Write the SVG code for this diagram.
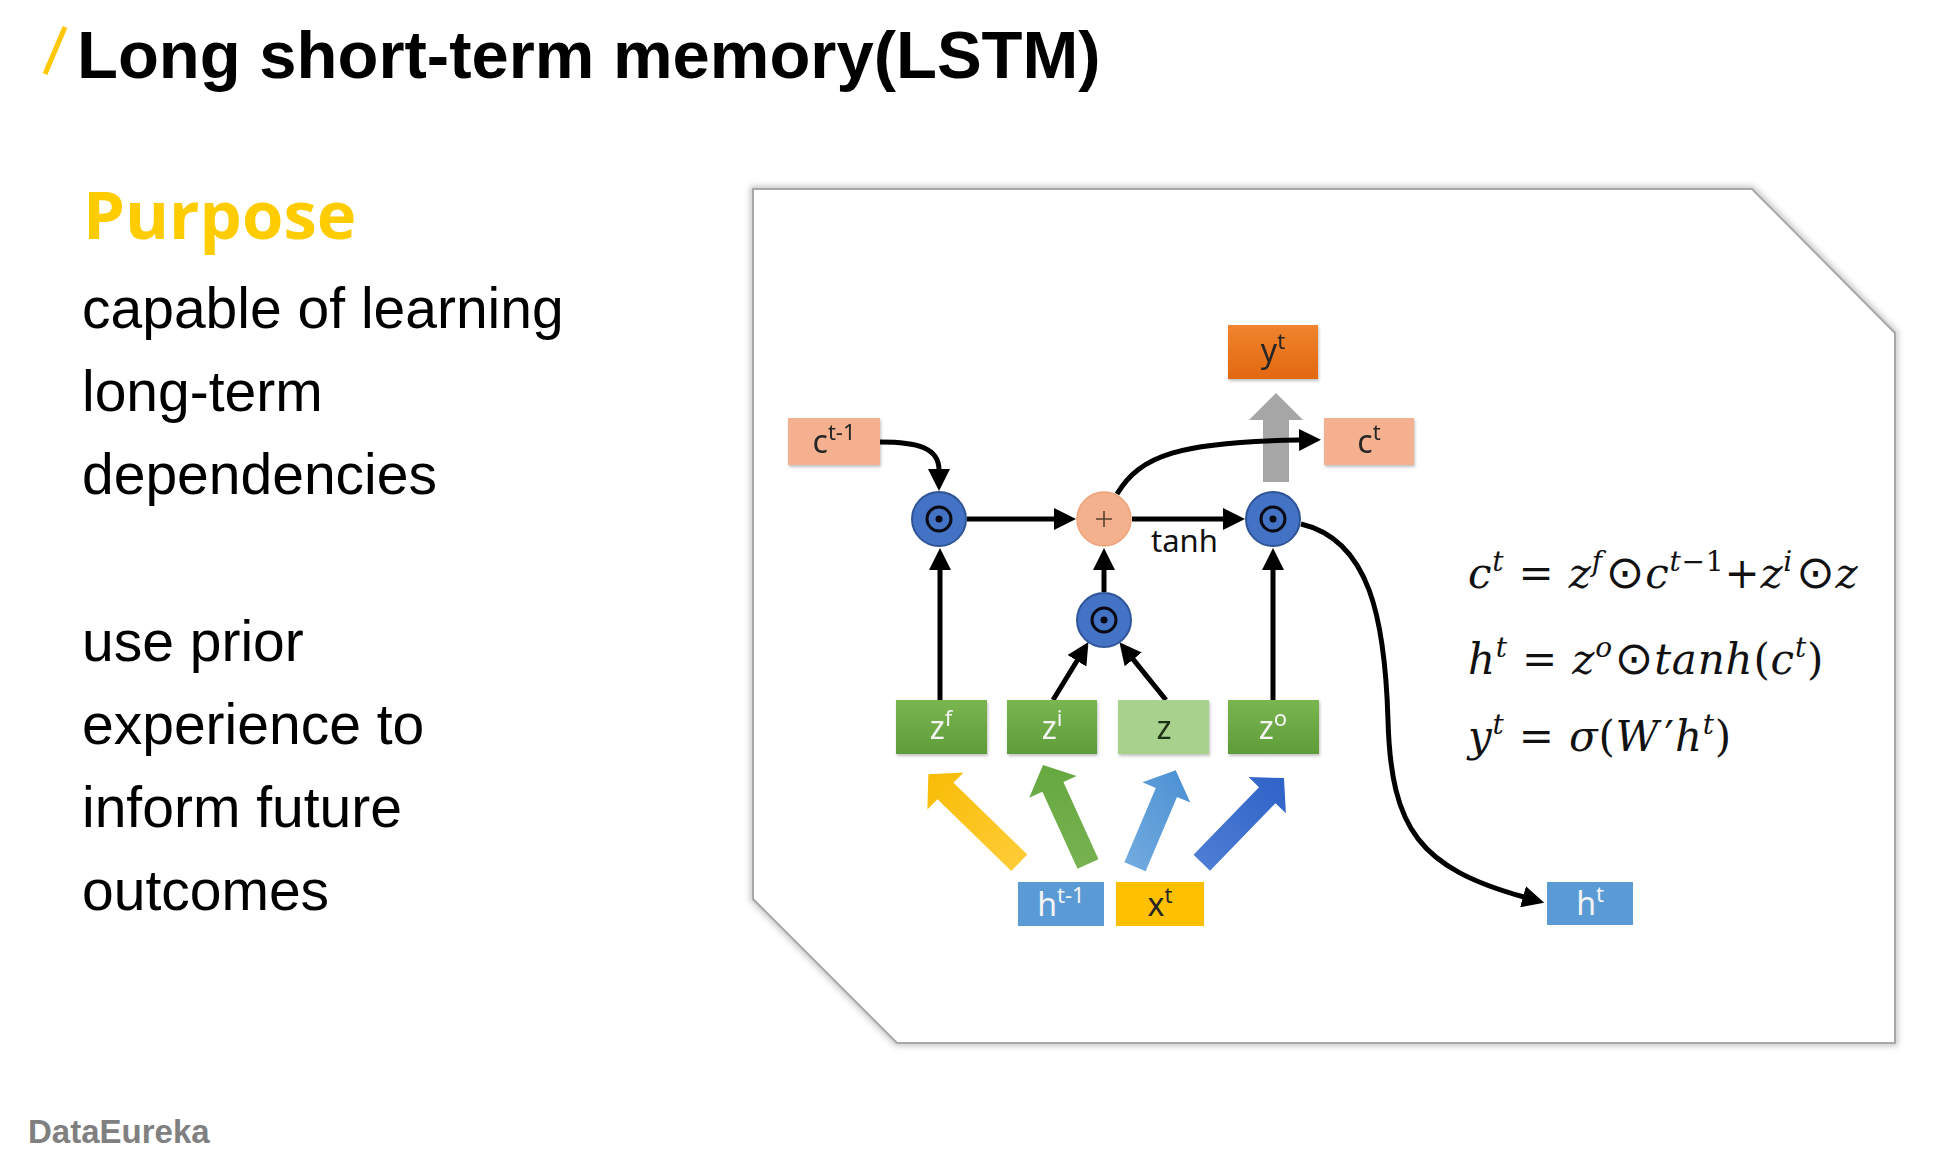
<svg xmlns="http://www.w3.org/2000/svg" width="1944" height="1164" viewBox="0 0 1944 1164">
  <style>
    .title { font-family: "Liberation Sans", Arial, sans-serif; font-weight: 700; font-size: 67px; fill: #000; }
    .head { font-family: "Open Sans", "Noto Sans", sans-serif; font-weight: 700; font-size: 67px; fill: #FFCC00; }
    .body { font-family: "Liberation Sans", Arial, sans-serif; font-size: 57px; fill: #000; }
    .brand { font-family: "Liberation Sans", Arial, sans-serif; font-weight: 700; font-size: 33px; fill: #808080; }
    .lbl { font-family: "Noto Sans", "Open Sans", sans-serif; font-size: 32px; text-anchor: middle; }
    .sup { font-size: 22px; }
    .dark { fill: #262626; }
    .light { fill: #F4F4F4; }
    .eq { font-family: "DejaVu Serif", "Liberation Serif", serif; font-size: 42px; font-style: italic; fill: #111; letter-spacing: 0.8px; }
    .rm { font-style: normal; }
    .op { font-family: "DejaVu Sans", sans-serif; font-style: normal; font-size: 46px; }
    .es { font-size: 28px; }
    .wire { fill: none; stroke: #000; stroke-width: 5; }
    .tanh { font-family: "Noto Sans", "Open Sans", sans-serif; font-size: 31px; fill: #111; }
    .gate { fill: #4472C4; stroke: #2F5597; stroke-width: 2; }
    .ring { fill: none; stroke: #0A0A14; stroke-width: 3; }
  </style>
  <defs>
    <marker id="tip" viewBox="0 0 22 22" refX="1" refY="11" markerWidth="22" markerHeight="22" markerUnits="userSpaceOnUse" orient="auto">
      <path d="M0,0 L22,11 L0,22 z" fill="#000"/>
    </marker>
    <filter id="shade" x="-10%" y="-10%" width="120%" height="130%">
      <feDropShadow dx="1" dy="2" stdDeviation="1.5" flood-color="#000" flood-opacity="0.25"/>
    </filter>
    <filter id="soft" x="-5%" y="-5%" width="110%" height="110%">
      <feGaussianBlur stdDeviation="3"/>
    </filter>
    <linearGradient id="gGreen" x1="0" y1="0" x2="0" y2="1">
      <stop offset="0" stop-color="#7AB650"/>
      <stop offset="1" stop-color="#5F9C3A"/>
    </linearGradient>
    <linearGradient id="gOrange" x1="0" y1="0" x2="0" y2="1">
      <stop offset="0" stop-color="#F0842F"/>
      <stop offset="1" stop-color="#E2680F"/>
    </linearGradient>
    <linearGradient id="gYel" x1="0" y1="0" x2="1" y2="1">
      <stop offset="0" stop-color="#F7BC05"/>
      <stop offset="1" stop-color="#FFCD3A"/>
    </linearGradient>
    <linearGradient id="gGrn" x1="0" y1="0" x2="0" y2="1">
      <stop offset="0" stop-color="#66A840"/>
      <stop offset="1" stop-color="#78B252"/>
    </linearGradient>
    <linearGradient id="gLBlue" x1="1" y1="0" x2="0" y2="1">
      <stop offset="0" stop-color="#4A8FD2"/>
      <stop offset="1" stop-color="#74ACE0"/>
    </linearGradient>
    <linearGradient id="gDBlue" x1="1" y1="0" x2="0" y2="1">
      <stop offset="0" stop-color="#2F62C8"/>
      <stop offset="1" stop-color="#4F7FD4"/>
    </linearGradient>
  </defs>

  <rect width="1944" height="1164" fill="#FFFFFF"/>

  <!-- heading -->
  <line x1="65" y1="27" x2="45" y2="74" stroke="#FFC800" stroke-width="5"/>
  <text class="title" x="77" y="78">Long short-term memory(LSTM)</text>

  <!-- left column -->
  <text class="head" x="83" y="239">Purpose</text>
  <text class="body" x="82" y="328">capable of learning</text>
  <text class="body" x="82" y="411">long-term</text>
  <text class="body" x="82" y="494">dependencies</text>
  <text class="body" x="82" y="661">use prior</text>
  <text class="body" x="82" y="744">experience to</text>
  <text class="body" x="82" y="827">inform future</text>
  <text class="body" x="82" y="910">outcomes</text>
  <text class="brand" x="28" y="1143">DataEureka</text>

  <!-- panel with clipped corners -->
  <g id="panel">
    <polygon points="753,189 1752,189 1895,333 1895,1043 897,1043 753,899" fill="none" stroke="#9A9A9A" stroke-width="5" filter="url(#soft)" opacity="0.7"/>
    <polygon points="753,189 1752,189 1895,333 1895,1043 897,1043 753,899" fill="#FFFFFF" stroke="#A8A8A8" stroke-width="2"/>
  </g>

  <!-- connectors -->
  <g id="connectors">
    <!-- output path up to y -->
    <polygon points="1263,482 1263,420 1249,420 1276,393 1303,420 1289,420 1289,482" fill="#A6A6A6"/>
    <!-- input block arrows -->
    <polygon points="1027.3,854.5 953.5,782.8 963.6,772.4 928.3,774.3 927.4,809.6 937.5,799.3 1011.3,871.0" fill="url(#gYel)"/>
    <polygon points="1098.5,859.2 1063.4,782.1 1076.6,776.1 1043,765 1029.2,797.7 1042.4,791.7 1077.5,868.8" fill="url(#gGrn)"/>
    <polygon points="1145.6,871.2 1177.0,796.9 1190.3,802.5 1175.7,770.3 1142.4,782.3 1155.8,787.9 1124.4,862.2" fill="url(#gLBlue)"/>
    <polygon points="1210.0,870.7 1275.5,803.2 1285.9,813.3 1284,778 1248.6,777.1 1259.0,787.2 1193.5,854.7" fill="url(#gDBlue)"/>
    <!-- cell state -->
    <path class="wire" d="M880,442 C918,442 939,448 939,470" marker-end="url(#tip)"/>
    <path class="wire" d="M967,519 L1055,519" marker-end="url(#tip)"/>
    <path class="wire" d="M1132,519 L1224,519" marker-end="url(#tip)"/>
    <text class="tanh" x="1151" y="552">tanh</text>
    <path class="wire" d="M1117,494 C1140,455 1180,442 1300,440" marker-end="url(#tip)"/>
    <!-- gate inputs -->
    <path class="wire" d="M940,700 L940,569" marker-end="url(#tip)"/>
    <path class="wire" d="M1273,700 L1273,569" marker-end="url(#tip)"/>
    <path class="wire" d="M1104,592 L1104,569" marker-end="url(#tip)"/>
    <path class="wire" d="M1053,700 L1077.5,660" marker-end="url(#tip)"/>
    <path class="wire" d="M1166,700 L1132.6,658.6" marker-end="url(#tip)"/>
    <!-- hidden output -->
    <path class="wire" d="M1301,524 C1370,540 1385,620 1388,720 C1391,830 1420,868 1524,897" marker-end="url(#tip)"/>
  </g>

  <!-- operators -->
  <g id="mul-forget">
    <circle class="gate" cx="939" cy="519" r="27"/>
    <circle class="ring" cx="939" cy="519" r="12"/>
    <circle cx="939" cy="519" r="3.5" fill="#0A0A14"/>
  </g>
  <g id="add-cell">
    <circle cx="1104" cy="519" r="27" fill="#F4B18E" stroke="#EFA47C" stroke-width="1.5"/>
    <path d="M1096,519 H1112 M1104,511 V527" stroke="#5A4030" stroke-width="1.6" fill="none"/>
  </g>
  <g id="mul-output">
    <circle class="gate" cx="1273" cy="519" r="27"/>
    <circle class="ring" cx="1273" cy="519" r="12"/>
    <circle cx="1273" cy="519" r="3.5" fill="#0A0A14"/>
  </g>
  <g id="mul-input">
    <circle class="gate" cx="1104" cy="620" r="27"/>
    <circle class="ring" cx="1104" cy="620" r="12"/>
    <circle cx="1104" cy="620" r="3.5" fill="#0A0A14"/>
  </g>

  <!-- state boxes -->
  <g id="c-prev" filter="url(#shade)">
    <rect x="788" y="418" width="92" height="47" fill="#F5B18F"/>
    <text class="lbl dark" x="834" y="453">c<tspan class="sup" dy="-13">t-1</tspan></text>
  </g>
  <g id="y-t" filter="url(#shade)">
    <rect x="1228" y="325" width="90" height="54" fill="url(#gOrange)"/>
    <text class="lbl dark" x="1273" y="362">y<tspan class="sup" dy="-13">t</tspan></text>
  </g>
  <g id="c-t" filter="url(#shade)">
    <rect x="1324" y="418" width="90" height="47" fill="#F5B18F"/>
    <text class="lbl dark" x="1369" y="453">c<tspan class="sup" dy="-13">t</tspan></text>
  </g>

  <!-- gate boxes -->
  <g id="z-f" filter="url(#shade)">
    <rect x="896" y="700" width="91" height="54" fill="url(#gGreen)"/>
    <text class="lbl light" x="941" y="739">z<tspan class="sup" dy="-13">f</tspan></text>
  </g>
  <g id="z-i" filter="url(#shade)">
    <rect x="1007" y="700" width="90" height="54" fill="url(#gGreen)"/>
    <text class="lbl light" x="1052" y="739">z<tspan class="sup" dy="-13">i</tspan></text>
  </g>
  <g id="z" filter="url(#shade)">
    <rect x="1118" y="700" width="91" height="54" fill="#A9D18E"/>
    <text class="lbl" x="1164" y="739" fill="#1E3316">z</text>
  </g>
  <g id="z-o" filter="url(#shade)">
    <rect x="1228" y="700" width="91" height="54" fill="url(#gGreen)"/>
    <text class="lbl light" x="1273" y="739">z<tspan class="sup" dy="-13">o</tspan></text>
  </g>

  <!-- inputs and hidden output -->
  <g id="h-prev">
    <rect x="1018" y="882" width="86" height="44" fill="#5B9BD5"/>
    <text class="lbl light" x="1061" y="916">h<tspan class="sup" dy="-13">t-1</tspan></text>
  </g>
  <g id="x-t">
    <rect x="1116" y="882" width="88" height="44" fill="#FFC000"/>
    <text class="lbl dark" x="1160" y="916">x<tspan class="sup" dy="-13">t</tspan></text>
  </g>
  <g id="h-t">
    <rect x="1547" y="882" width="86" height="43" fill="#5B9BD5"/>
    <text class="lbl light" x="1590" y="915">h<tspan class="sup" dy="-13">t</tspan></text>
  </g>

  <!-- equations -->
  <g id="equations">
    <text class="eq" x="1468" y="588">c<tspan class="es" dy="-17">t</tspan><tspan class="rm" dy="17"> = </tspan>z<tspan class="es" dy="-17">f</tspan><tspan class="op" dy="17" dx="3">⊙</tspan>c<tspan class="es" dy="-17">t<tspan class="rm">−1</tspan></tspan><tspan class="rm" dy="17">+</tspan>z<tspan class="es" dy="-17">i</tspan><tspan class="op" dy="17" dx="3">⊙</tspan>z</text>
    <text class="eq" x="1468" y="674">h<tspan class="es" dy="-17">t</tspan><tspan class="rm" dy="17"> = </tspan>z<tspan class="es" dy="-17">o</tspan><tspan class="op" dy="17" dx="2">⊙</tspan>tanh<tspan class="rm">(</tspan>c<tspan class="es" dy="-17">t</tspan><tspan class="rm" dy="17">)</tspan></text>
    <text class="eq" x="1468" y="751">y<tspan class="es" dy="-17">t</tspan><tspan class="rm" dy="17"> = </tspan>σ<tspan class="rm">(</tspan>W<tspan class="rm" dx="5">′</tspan>h<tspan class="es" dy="-17">t</tspan><tspan class="rm" dy="17">)</tspan></text>
  </g>
</svg>
